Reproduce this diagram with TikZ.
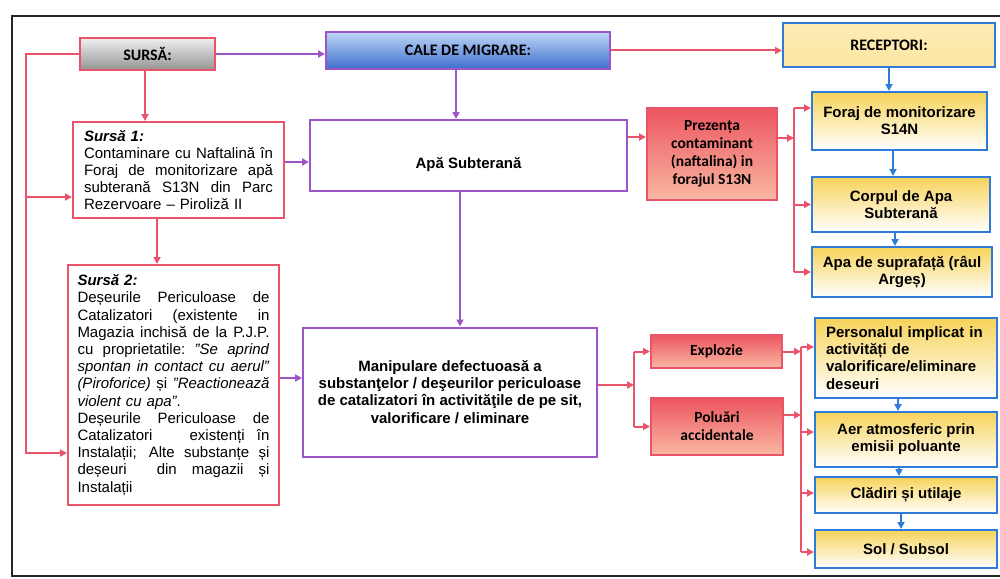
\documentclass[tikz,border=0pt]{standalone}
\usepackage{fontspec}
\setmainfont{Liberation Sans}
\newfontfamily\hdfont{Carlito}
\usetikzlibrary{arrows.meta,calc}

\definecolor{rln}{HTML}{E9546B}
\definecolor{pln}{HTML}{9B55C8}
\definecolor{bln}{HTML}{2F7BD9}
\definecolor{yel}{HTML}{F7D35A}
\definecolor{recfill}{HTML}{FCE6A2}
\definecolor{hottop}{HTML}{EC5560}
\definecolor{hotbot}{HTML}{FAB8A2}

% one justified line of a fixed-width paragraph (width in \jw)
\newdimen\jw
\newcommand{\jl}[1]{\leavevmode\hbox to \jw{\spaceskip=0.28em plus 1fil\xspaceskip=0.28em plus 1fil\relax #1}}

\begin{document}
\begin{tikzpicture}[x=1pt,y=-1pt,
  body/.style={font=\fontsize{15}{17.2}\selectfont},
  boldbody/.style={font=\fontsize{15}{17.2}\selectfont\bfseries},
  box/.style={draw, line width=2pt, inner sep=0pt, align=center},
  redbox/.style={box, draw=rln, fill=white},
  purplebox/.style={box, draw=pln, fill=white, boldbody},
  yelbox/.style={box, draw=bln, top color=yel, middle color=yel!45, bottom color=white, boldbody},
  hotbox/.style={box, draw=rln, top color=hottop, bottom color=hotbot,
    font=\hdfont\fontsize{15.5}{18}\selectfont\bfseries},
  graybox/.style={box, draw=rln, top color=black!6, bottom color=black!42,
    font=\hdfont\fontsize{16}{18}\selectfont\bfseries},
  bluebox/.style={box, draw=pln, top color={rgb,255:red,190;green,215;blue,246},
    bottom color={rgb,255:red,62;green,110;blue,206},
    font=\hdfont\fontsize{16}{18}\selectfont\bfseries},
  recbox/.style={box, draw=bln, top color=recfill!80, bottom color=recfill!100!yel,
    font=\hdfont\fontsize{16}{18}\selectfont\bfseries},
  tip/.style={-{Triangle[length=7pt,width=7pt]}},
  rline/.style={draw=rln, line width=2pt},
  rarr/.style={rline, tip},
  parr/.style={draw=pln, line width=2pt, tip},
  barr/.style={draw=bln, line width=2.2pt, tip},
  frame/.style={draw=black!85, line width=2.2pt}
]
\useasboundingbox (0,0) rectangle (1000,578);
\draw[frame] (1000,16) -- (12,16) -- (12,576) -- (1000,576);

% header row
\node[graybox, minimum width=135, minimum height=32] (sursa) at (147.5,54) {SURSĂ:};
\node[bluebox, minimum width=284, minimum height=37] (cale) at (468,50.5) {CALE DE MIGRARE:};
\node[recbox, minimum width=212, minimum height=44] (rec) at (889,45) {RECEPTORI:};

% sources
\node[redbox, body, minimum width=211, minimum height=96, text width=189, align=left]
  (s1) at (178.5,170) {\jw=189pt
  {\bfseries\itshape Sursă 1:}\\
  \jl{Contaminare cu Naftalină în}\\
  \jl{Foraj de monitorizare apă}\\
  \jl{subterană S13N din Parc}\\
  Rezervoare – Piroliză II};

\node[redbox, body, minimum width=211, minimum height=240, text width=192, align=left]
  (s2) at (173.5,385) {\jw=192pt
  {\bfseries\itshape Sursă 2:}\\
  \jl{Deșeurile Periculoase de}\\
  \jl{Catalizatori (existente in}\\
  \jl{Magazia inchisă de la P.J.P.}\\
  \jl{cu proprietatile: \textit{"Se aprind}}\\
  \jl{\textit{spontan in contact cu aerul"}}\\
  \jl{\textit{(Piroforice)} și \textit{"Reactionează}}\\
  \textit{violent cu apa"}.\\
  \jl{Deșeurile Periculoase de}\\
  \jl{Catalizatori \ \ existenți în}\\
  \jl{Instalații; Alte substanțe și}\\
  \jl{deșeuri \ din magazii și}\\
  Instalații};

% migration paths
\node[purplebox, minimum width=317, minimum height=71] (apa) at (468.5,155.5)
  {\raisebox{-12.5pt}[0pt][0pt]{Apă Subterană}};
\node[purplebox, minimum width=294, minimum height=129] (man) at (450,392)
  {Manipulare defectuoasă a\\
   substanţelor / deşeurilor periculoase\\
   de catalizatori în activităţile de pe sit,\\
   valorificare / eliminare};

% events
\node[hotbox, minimum width=130, minimum height=92] (prez) at (712,154)
  {Prezența\\contaminant\\(naftalina) in\\forajul S13N};
\node[hotbox, minimum width=131, minimum height=33] (expl) at (716.5,351.5) {Explozie};
\node[hotbox, minimum width=132, minimum height=57] (pol) at (717,426.5) {Poluări\\accidentale};

% receptors
\node[yelbox, minimum width=175, minimum height=58] (f14) at (899.5,121)
  {Foraj de monitorizare\\S14N};
\node[yelbox, minimum width=178, minimum height=55] (corp) at (901,204.5)
  {Corpul de Apa\\Subterană};
\node[yelbox, minimum width=180, minimum height=50] (supr) at (902,272)
  {Apa de suprafață (râul\\Argeș)};
\node[yelbox, minimum width=182, minimum height=80, text width=160, align=left] (pers) at (906,358)
  {Personalul implicat in\\activități de\\valorificare/eliminare\\deseuri};
\node[yelbox, minimum width=182, minimum height=55] (aer) at (906,439.5)
  {Aer atmosferic prin\\emisii poluante};
\node[yelbox, minimum width=182, minimum height=36] (clad) at (906,495) {Clădiri și utilaje};
\node[yelbox, minimum width=182, minimum height=38] (sol) at (906,549) {Sol / Subsol};

% header links
\draw[parr] (sursa.east) -- (sursa.east -| cale.west);
\draw[rarr] (cale.east) -- (cale.east -| rec.west);
\draw[rarr] ([xshift=-2.5pt]sursa.south) -- ([xshift=-2.5pt]sursa.south |- s1.north);
\coordinate (ca) at ([xshift=-12pt]cale.south);
\draw[parr] (ca) -- (ca |- apa.north);

% left feeder from SURSA
\coordinate (lb) at ($(sursa.west)+(-53,0)$);
\coordinate (s1w) at ([yshift=-27pt]s1.west);
\coordinate (s2w) at ([yshift=-68pt]s2.west);
\draw[rarr] (sursa.west) -- (lb) |- (s2w);
\draw[rarr] (lb |- s1w) -- (s1w);

% source to path links
\coordinate (s1s) at ([xshift=-21.5pt]s1.south);
\draw[rarr] (s1s) -- (s1s |- s2.north);
\coordinate (s1e) at ([yshift=8pt]s1.east);
\draw[parr] (s1e) -- (s1e -| apa.west);
\coordinate (s2e) at ([yshift=7pt]s2.east);
\draw[parr] (s2e) -- (s2e -| man.west);
\coordinate (as) at ([xshift=-8.5pt]apa.south);
\draw[parr] (as) -- (as |- man.north);

% groundwater branch
\coordinate (ae) at ([yshift=18.5pt]apa.east);
\draw[rarr] (ae) -- (ae -| prez.west);
\coordinate (pe) at ([yshift=16pt]prez.east);
\coordinate (b1) at ($(pe)+(16,0)$);
\coordinate (f14w) at ([yshift=13pt]f14.west);
\draw[rarr] (pe) -- (b1);
\draw[rline] (b1 |- f14w) -- (b1 |- supr.west);
\draw[rarr] (b1 |- f14w) -- (f14w);
\draw[rarr] (b1 |- corp.west) -- (corp.west);
\draw[rarr] (b1 |- supr.west) -- (supr.west);
\draw[barr] (rec.south) -- (rec.south |- f14.north);
\coordinate (fs) at ([xshift=-6.5pt]f14.south);
\draw[barr] (fs) -- (fs |- corp.north);
\coordinate (cs) at ([xshift=-6pt]corp.south);
\draw[barr] (cs) -- (cs |- supr.north);

% handling branch
\coordinate (me) at ([yshift=7pt]man.east);
\coordinate (b2) at ($(me)+(36,0)$);
\draw[rarr] (me) -- (b2);
\draw[rline] (b2 |- expl.west) -- (b2 |- pol.west);
\draw[rarr] (b2 |- expl.west) -- (expl.west);
\draw[rarr] (b2 |- pol.west) -- (pol.west);

\coordinate (b3) at ($(expl.east)+(18,0)$);
\coordinate (pole) at ([yshift=11.5pt]pol.east);
\draw[rarr] (expl.east) -- (b3);
\draw[rarr] (pole) -- (pole -| b3);
\coordinate (pw) at ([yshift=11pt]pers.west);
\coordinate (aw) at ([yshift=7.5pt]aer.west);
\coordinate (cw) at ([yshift=2pt]clad.west);
\coordinate (sw) at ([yshift=-3pt]sol.west);
\draw[rline] (b3 |- pw) -- (b3 |- sw);
\draw[rarr] (b3 |- pw) -- (pw);
\draw[rarr] (b3 |- aw) -- (aw);
\draw[rarr] (b3 |- cw) -- (cw);
\draw[rarr] (b3 |- sw) -- (sw);

\coordinate (ps) at ([xshift=-8pt]pers.south);
\draw[barr] (ps) -- (ps |- aer.north);
\coordinate (as2) at ([xshift=-7pt]aer.south);
\draw[barr] (as2) -- (as2 |- clad.north);
\coordinate (cls) at ([xshift=-5pt]clad.south);
\draw[barr] (cls) -- (cls |- sol.north);
\end{tikzpicture}
\end{document}
